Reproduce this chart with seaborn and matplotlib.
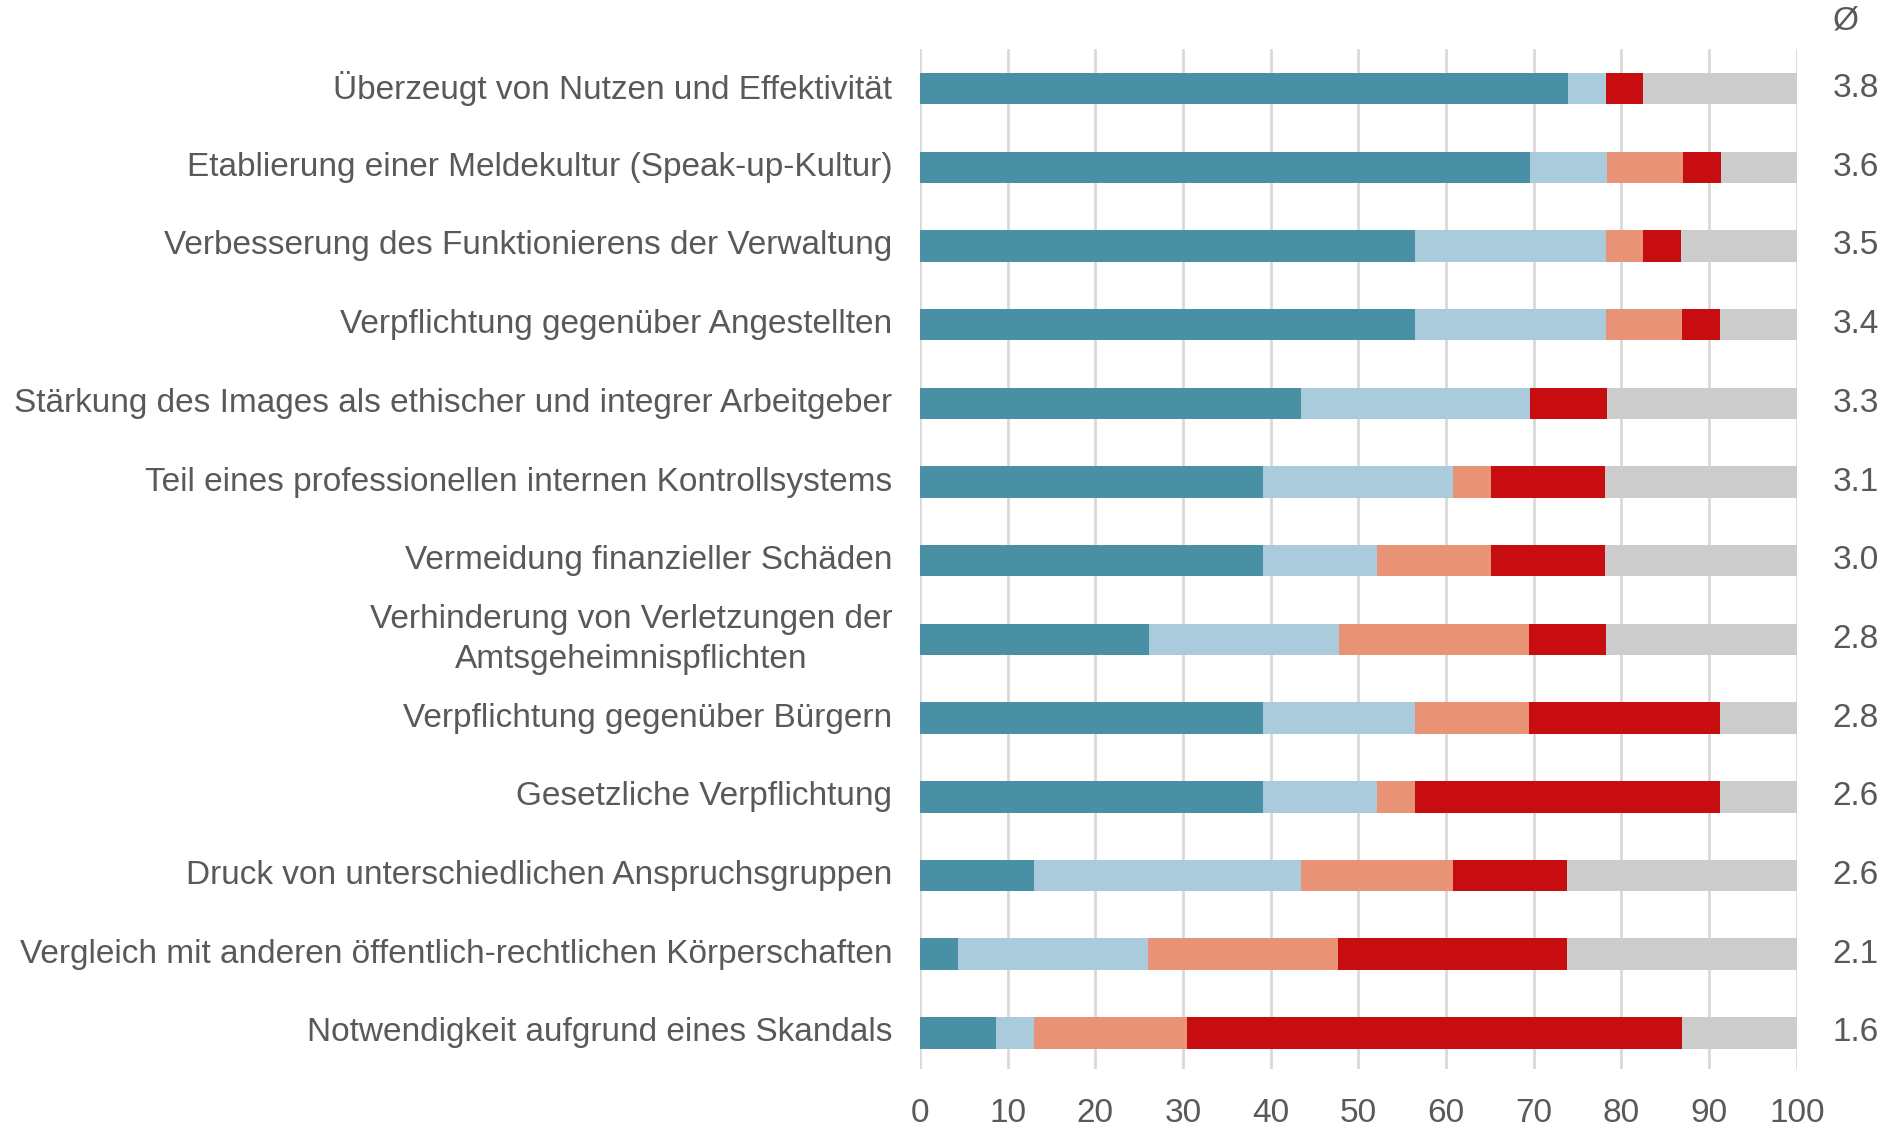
import matplotlib
matplotlib.use('Agg')
import matplotlib.pyplot as plt
import pandas as pd
import seaborn as sns
from matplotlib import font_manager

# Daten (Anteile in %, je Aussage)
items = [
    'Überzeugt von Nutzen und Effektivität',
    'Etablierung einer Meldekultur (Speak-up-Kultur)',
    'Verbesserung des Funktionierens der Verwaltung',
    'Verpflichtung gegenüber Angestellten',
    'Stärkung des Images als ethischer und integrer Arbeitgeber',
    'Teil eines professionellen internen Kontrollsystems',
    'Vermeidung finanzieller Schäden',
    'Verhinderung von Verletzungen der\nAmtsgeheimnispflichten',
    'Verpflichtung gegenüber Bürgern',
    'Gesetzliche Verpflichtung',
    'Druck von unterschiedlichen Anspruchsgruppen',
    'Vergleich mit anderen öffentlich-rechtlichen Körperschaften',
    'Notwendigkeit aufgrund eines Skandals',
]
trifft_zu = [73.9, 69.6, 56.5, 56.5, 43.5, 39.1, 39.1, 26.1, 39.1, 39.1, 13.0, 4.3, 8.7]
eher_zu = [4.3, 8.7, 21.7, 21.7, 26.1, 21.7, 13.0, 21.7, 17.4, 13.0, 30.4, 21.7, 4.3]
eher_nicht = [0.0, 8.7, 4.3, 8.7, 0.0, 4.3, 13.0, 21.7, 13.0, 4.3, 17.4, 21.7, 17.4]
nicht_zu = [4.3, 4.3, 4.3, 4.3, 8.7, 13.0, 13.0, 8.7, 21.7, 34.8, 13.0, 26.1, 56.5]
keine_angabe = [17.5, 8.7, 13.2, 8.8, 21.7, 21.9, 21.9, 21.8, 8.8, 8.8, 26.2, 26.2, 13.1]
mittelwert = ['3.8', '3.6', '3.5', '3.4', '3.3', '3.1', '3.0', '2.8', '2.8', '2.6', '2.6', '2.1', '1.6']
x_ticks = [0, 10, 20, 30, 40, 50, 60, 70, 80, 90, 100]

farben = ['#4A90A4', '#AACBDC', '#E89376', '#C80D10', '#CCCCCC']
text_farbe = '#595959'

# Schrift: schmale Arial-Variante, falls vorhanden
installiert = {f.name for f in font_manager.fontManager.ttflist}
if 'Liberation Sans Narrow' in installiert:
    schrift, groesse = 'Liberation Sans Narrow', 29
else:
    schrift, groesse = 'Liberation Sans', 24

sns.set_style('white')
plt.rcParams['font.family'] = [schrift, 'DejaVu Sans']

df = pd.DataFrame({
    'item': items,
    's1': trifft_zu, 's2': eher_zu, 's3': eher_nicht, 's4': nicht_zu, 's5': keine_angabe,
})
spalten = ['s1', 's2', 's3', 's4', 's5']
kumuliert = df[spalten].cumsum(axis=1)

fig = plt.figure(figsize=(18.98, 11.28), dpi=100)
ax = fig.add_axes([0.4847, 0.0523, 0.4620, 0.9047])

# gestapelte Balken: von hinten (Summe) nach vorne zeichnen
for spalte, farbe in reversed(list(zip(spalten, farben))):
    sns.barplot(x=kumuliert[spalte], y=df['item'], color=farbe, width=0.4,
                orient='h', linewidth=0, saturation=1, ax=ax, zorder=3)

ax.set_xlim(0, 100)
ax.set_ylim(len(items) - 1 + 0.46, -0.51)
ax.set_xticks(x_ticks)
ax.grid(axis='x', color='#D9D9D9', linewidth=2, zorder=0)
ax.grid(axis='y', visible=False)
for s in ax.spines.values():
    s.set_visible(False)
ax.set_xlabel('')
ax.set_ylabel('')

ax.tick_params(axis='y', length=0, pad=20, labelsize=groesse, labelcolor=text_farbe)
ax.tick_params(axis='x', length=0, pad=21, labelsize=groesse, labelcolor=text_farbe)
for lbl in ax.get_yticklabels():
    lbl.set_multialignment('center')
    lbl.set_verticalalignment('center')
    lbl.set_linespacing(1.35)

# Mittelwerte rechts
for i, wert in enumerate(mittelwert):
    ax.text(104.1, i, wert, ha='left', va='center', fontsize=groesse,
            color=text_farbe, clip_on=False)
ax.text(104.1, -0.86, 'Ø', ha='left', va='center', fontsize=groesse,
        color=text_farbe, clip_on=False)

fig.savefig('out.png', dpi=100)
